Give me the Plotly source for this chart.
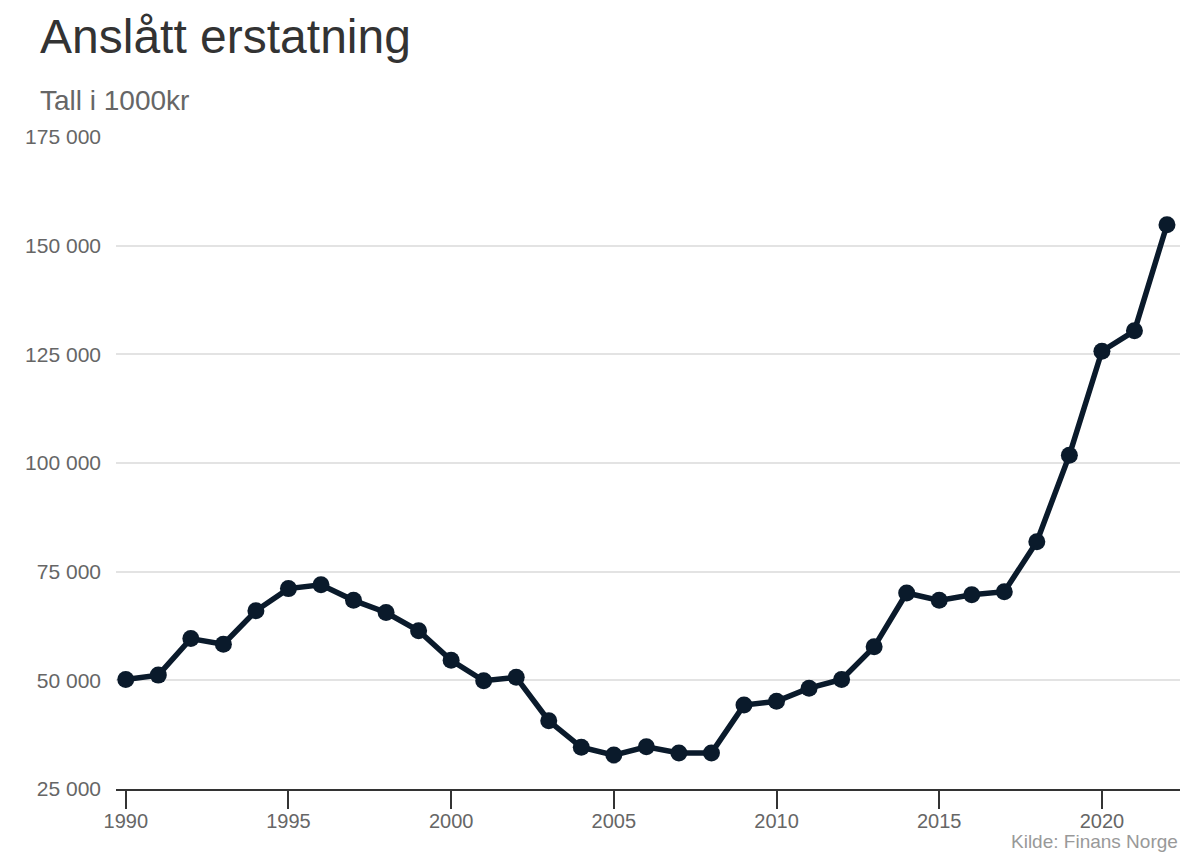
import plotly.graph_objects as go

years = list(range(1990, 2023))
values = [50200, 51200, 59600, 58300, 66000, 71100, 72000, 68400, 65600, 61400,
          54600, 49900, 50700, 40700, 34600, 32800, 34700, 33300, 33300, 44300,
          45200, 48200, 50200, 57700, 70100, 68400, 69700, 70400, 81900, 101800,
          125700, 130400, 154800]
y_ticks = [25000, 50000, 75000, 100000, 125000, 150000, 175000]
y_labels = ["25 000", "50 000", "75 000", "100 000", "125 000", "150 000", "175 000"]
x_ticks = [1990, 1995, 2000, 2005, 2010, 2015, 2020]

FONT = "Liberation Sans, Arial, sans-serif"

W, H = 1192, 850
L, R, T, B = 108, 20, 129, 69
PW = W - L - R
PH = H - T - B

fig = go.Figure()
fig.add_trace(go.Scatter(
    x=years, y=values, mode="lines+markers",
    line=dict(color="#0a1a2b", width=5.5),
    marker=dict(color="#0a1a2b", size=17),
    showlegend=False, cliponaxis=False,
))

fig.update_layout(
    width=W, height=H,
    margin=dict(l=L, r=R, t=T, b=B),
    paper_bgcolor="white", plot_bgcolor="white",
    font=dict(family=FONT, color="#666666"),
    xaxis=dict(
        range=[1989.7, 2022.4], tickvals=x_ticks,
        showgrid=False, zeroline=False,
        showline=True, linecolor="#333333", linewidth=2,
        ticks="outside", ticklen=18, tickwidth=2, tickcolor="#333333",
        ticklabelstandoff=-5,
        tickfont=dict(size=20, color="#666666", family=FONT),
    ),
    yaxis=dict(
        range=[25000, 175000], tickvals=y_ticks, ticktext=y_labels,
        showgrid=True, gridcolor="#e3e3e3", gridwidth=2, zeroline=False,
        showline=False, ticks="", ticklabelstandoff=14,
        tickfont=dict(size=21, color="#666666", family=FONT),
    ),
    annotations=[
        dict(text="Anslått erstatning", xref="paper", yref="paper",
             x=(30 - L) / PW, y=1 + (T - 0) / PH, xanchor="left", yanchor="top",
             showarrow=False, font=dict(size=48, color="#333333", family=FONT)),
        dict(text="Tall i 1000kr", xref="paper", yref="paper",
             x=(30 - L) / PW, y=1 + (T - 92) / PH, xanchor="left", yanchor="middle",
             showarrow=False, font=dict(size=28, color="#666666", family=FONT)),
        dict(text="Kilde: Finans Norge", xref="paper", yref="paper",
             x=1, y=-(833 - 781) / PH, xanchor="right", yanchor="middle",
             showarrow=False, font=dict(size=19, color="#999999", family=FONT)),
    ],
)

fig.write_html("out.html")
